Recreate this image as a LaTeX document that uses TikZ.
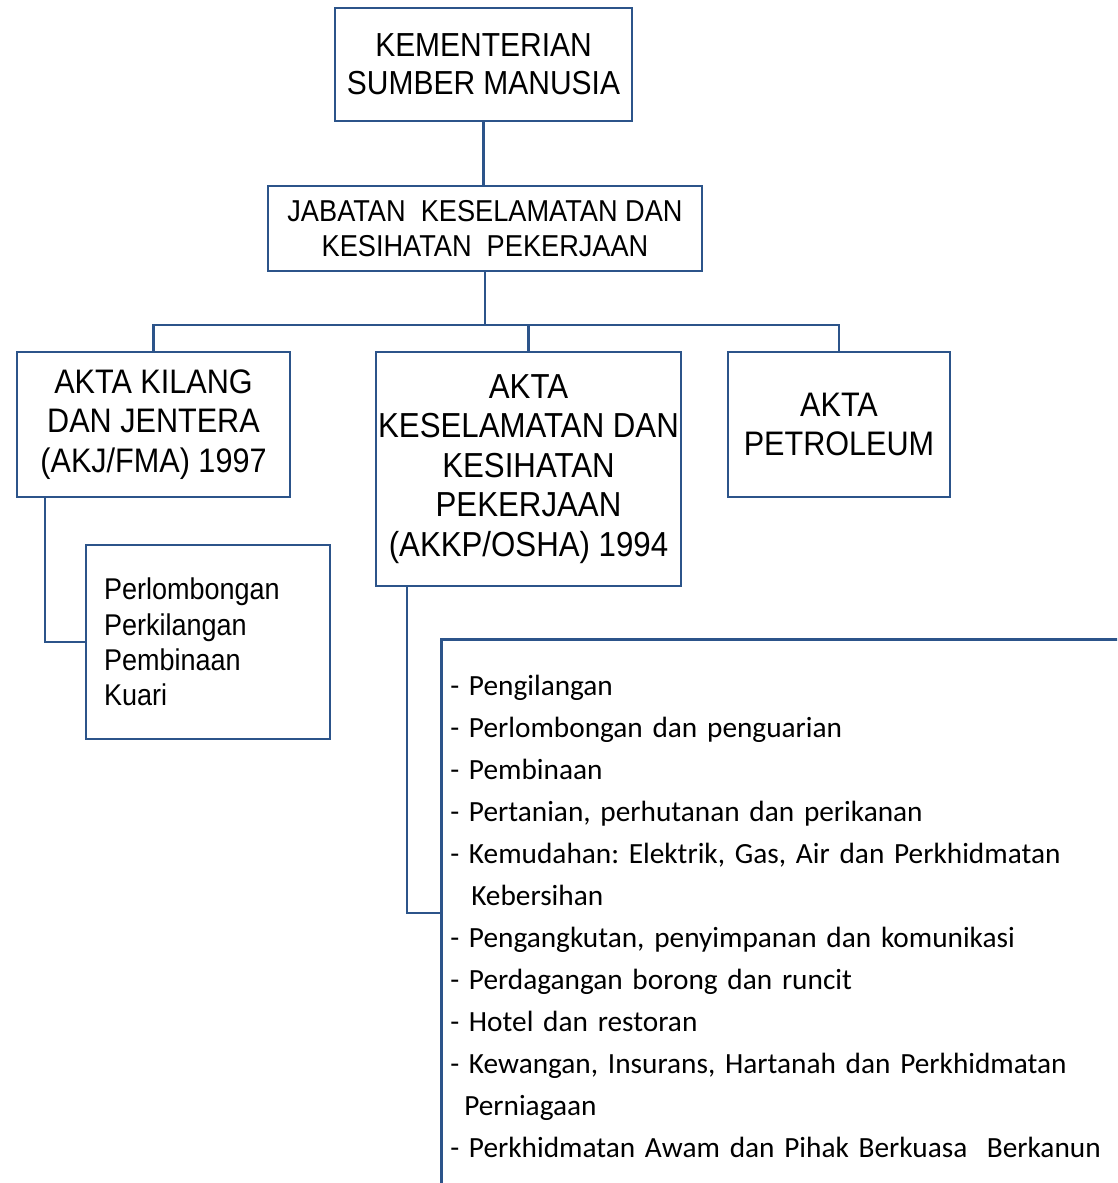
\documentclass[tikz,border=0pt]{standalone}
\usepackage{fontspec}
\setmainfont{Liberation Sans}
\newfontfamily\boxfont[FakeStretch=0.9]{Liberation Sans}
\newfontfamily\listfont{Carlito}
\usepackage{tikz}
\usetikzlibrary{positioning, calc}
\frenchspacing
\definecolor{orgline}{RGB}{44,84,138}
\tikzset{
  orgbox/.style={rectangle,draw=orgline,line width=2.5pt,fill=white,
    align=center,inner sep=0pt,font=\boxfont\fontsize{34}{39.5}\selectfont},
  deptbox/.style={orgbox,font=\boxfont\fontsize{30.2}{35}\selectfont},
  subbox/.style={rectangle,draw=orgline,line width=2.5pt,fill=white,
    align=left,text width=208pt,inner xsep=18pt,inner ysep=0pt,
    font=\boxfont\fontsize{30}{35.3}\selectfont},
  listbox/.style={rectangle,draw=orgline,line width=2.5pt,fill=white,
    align=left,text width=700pt,inner xsep=9pt,inner ysep=36pt,
    font=\listfont\fontsize{29.3}{42}\selectfont},
  link/.style={draw=orgline,line width=2.5pt}
}
\begin{document}
\begin{tikzpicture}[x=1pt,y=-1pt]
  \useasboundingbox (0,0) rectangle (1117,1183);
  \clip (0,0) rectangle (1117,1183);
  \coordinate (bus) at (0,325);

  \node[orgbox, minimum width=297pt, minimum height=113pt,
    font=\boxfont\fontsize{33.3}{38}\selectfont] (kem) at (483.5,64.5)
    {KEMENTERIAN\\SUMBER MANUSIA};
  \node[deptbox, minimum width=434pt, minimum height=85pt] (jab) at (485,228.5)
    {JABATAN\ \ KESELAMATAN DAN\\KESIHATAN\ \ PEKERJAAN};
  \node[orgbox, minimum width=273pt, minimum height=145pt] (akj) at (153.5,424.5)
    {AKTA KILANG\\DAN JENTERA\\(AKJ/FMA) 1997};
  \node[orgbox, minimum width=305pt, minimum height=234pt,
    font=\boxfont\fontsize{34.7}{39.5}\selectfont] (akkp) at (528.5,469)
    {AKTA\\KESELAMATAN DAN\\KESIHATAN\\PEKERJAAN\\(AKKP/OSHA) 1994};
  \node[orgbox, minimum width=222pt, minimum height=145pt] (pet) at (839,424.5)
    {AKTA\\PETROLEUM};
  \node[subbox, minimum height=194pt] (perl) at (208,642)
    {Perlombongan\\Perkilangan\\Pembinaan\\Kuari};
  \node[listbox, anchor=north west] (sektor) at (440,638)
    {- Pengilangan\\
     - Perlombongan dan penguarian\\
     - Pembinaan\\
     - Pertanian, perhutanan dan perikanan\\
     - Kemudahan: Elektrik, Gas, Air dan Perkhidmatan\\
     \hspace*{21pt}Kebersihan\\
     - Pengangkutan, penyimpanan dan komunikasi\\
     - Perdagangan borong dan runcit\\
     - Hotel dan restoran\\
     - Kewangan, Insurans, Hartanah dan Perkhidmatan\\
     \hspace*{14pt}Perniagaan\\
     - Perkhidmatan Awam dan Pihak Berkuasa\ \ Berkanun};

  \draw[link] (kem.south) -- (kem.south |- jab.north);
  \draw[link] (jab.south) -- (jab.south |- bus);
  \draw[link] (akj.north) -- (akj.north |- bus) -| (pet.north);
  \draw[link] (akkp.north) -- (akkp.north |- bus);
  \draw[link] ([xshift=-108.5pt]akj.south) |- (perl.west);
  \draw[link] ([xshift=-121.5pt]akkp.south) |- ([yshift=-275pt]sektor.north west);
\end{tikzpicture}
\end{document}
